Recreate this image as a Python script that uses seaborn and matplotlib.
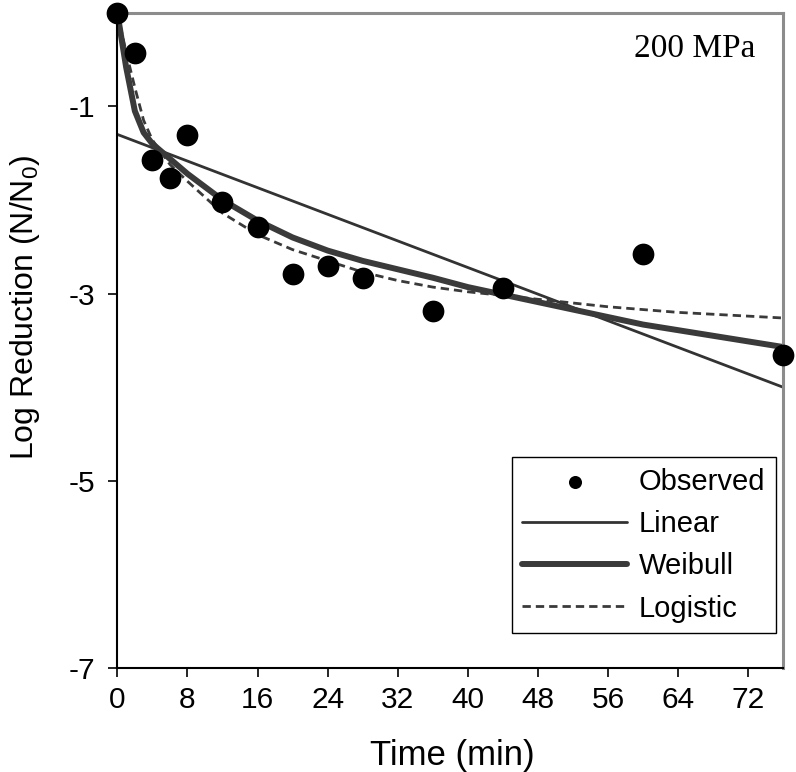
# Log reduction at 200 MPa: observed points and three fitted models
import numpy as np
import pandas as pd
import matplotlib.pyplot as plt
import seaborn as sns

# observed data
time_obs = [0, 2, 4, 6, 8, 12, 16, 20, 24, 28, 36, 44, 60, 76]
log_obs = [0.00, -0.43, -1.57, -1.77, -1.31, -2.02, -2.29, -2.79, -2.70, -2.83, -3.18, -2.94, -2.58, -3.66]

# linear model
time_linear = [0, 76]
log_linear = [-1.30, -4.00]

# Weibull and logistic models
time_model = [0, 1, 2, 3, 4, 6, 8, 12, 16, 20, 24, 28, 32, 36, 40, 44, 48, 52, 56, 60, 64, 68, 72, 76]
log_weibull = [0.00, -0.58, -1.05, -1.28, -1.40, -1.56, -1.72, -2.00, -2.22, -2.40, -2.54, -2.65,
               -2.74, -2.83, -2.93, -3.01, -3.09, -3.17, -3.25, -3.33, -3.39, -3.45, -3.51, -3.57]
log_logistic = [0.00, -0.42, -0.80, -1.15, -1.36, -1.62, -1.80, -2.14, -2.37, -2.53, -2.65, -2.77,
                -2.86, -2.93, -2.98, -3.02, -3.06, -3.10, -3.14, -3.17, -3.20, -3.22, -3.24, -3.26]

x_ticks = list(range(0, 73, 8))
y_ticks = [-1, -3, -5, -7]

sns.set_style("ticks")
plt.rcParams['font.family'] = ['Liberation Sans', 'DejaVu Sans']
plt.rcParams['mathtext.fontset'] = 'custom'
plt.rcParams['mathtext.rm'] = 'Liberation Sans'
plt.rcParams['mathtext.it'] = 'Liberation Sans'
plt.rcParams['axes.unicode_minus'] = False
plt.rcParams['text.color'] = 'black'
plt.rcParams['axes.labelcolor'] = 'black'
plt.rcParams['xtick.color'] = 'black'
plt.rcParams['ytick.color'] = 'black'

fig = plt.figure(figsize=(7.96, 7.72), dpi=100)
ax = fig.add_axes([0.1474, 0.1343, 0.8367, 0.8493])

sns.lineplot(x=time_linear, y=log_linear, ax=ax, color='#333333', lw=2, label='Linear')
sns.lineplot(x=time_model, y=log_weibull, ax=ax, color='#3a3a3a', lw=4.3, label='Weibull')
sns.lineplot(x=time_model, y=log_logistic, ax=ax, color='#3a3a3a', lw=2,
             linestyle=(0, (3, 1.8)), label='Logistic')
sns.scatterplot(x=time_obs, y=log_obs, ax=ax, color='black', s=245, linewidth=0,
                label='Observed', zorder=5, clip_on=False)

ax.set_xlim(0, 76)
ax.set_ylim(-7, 0)
ax.set_xticks(x_ticks)
ax.set_yticks(y_ticks)
ax.tick_params(direction='out', length=6.5, width=1.2, labelsize=21.5, colors='black')
ax.tick_params(axis='x', pad=6.5)
ax.tick_params(axis='y', pad=9.5)
ax.set_xlabel("Time (min)", fontsize=25)
ax.set_ylabel("Log Reduction (N/N$_0$)", fontsize=23)
ax.xaxis.set_label_coords(0.5026, -0.108)
ax.yaxis.set_label_coords(-0.113, 0.551)

for side in ['left', 'bottom']:
    ax.spines[side].set_color('black')
    ax.spines[side].set_linewidth(1.5)
for side in ['top', 'right']:
    ax.spines[side].set_visible(True)
    ax.spines[side].set_color('#8c8c8c')
    ax.spines[side].set_linewidth(2.2)

ax.text(0.867, 0.945, "200 MPa", transform=ax.transAxes, family='Liberation Serif',
        fontsize=24, ha='center', va='center')

handles, labels = ax.get_legend_handles_labels()
order = [labels.index(n) for n in ['Observed', 'Linear', 'Weibull', 'Logistic']]
leg = ax.legend([handles[i] for i in order], [labels[i] for i in order],
                loc='lower right', bbox_to_anchor=(0.9886, 0.0543), borderaxespad=0,
                frameon=True, fancybox=False, edgecolor='black', framealpha=1,
                fontsize=21, handlelength=3.6, handletextpad=0.41, labelspacing=0.49,
                borderpad=0.35, markerscale=0.6)
leg.get_frame().set_linewidth(1.0)

fig.savefig("out.png", dpi=100)
